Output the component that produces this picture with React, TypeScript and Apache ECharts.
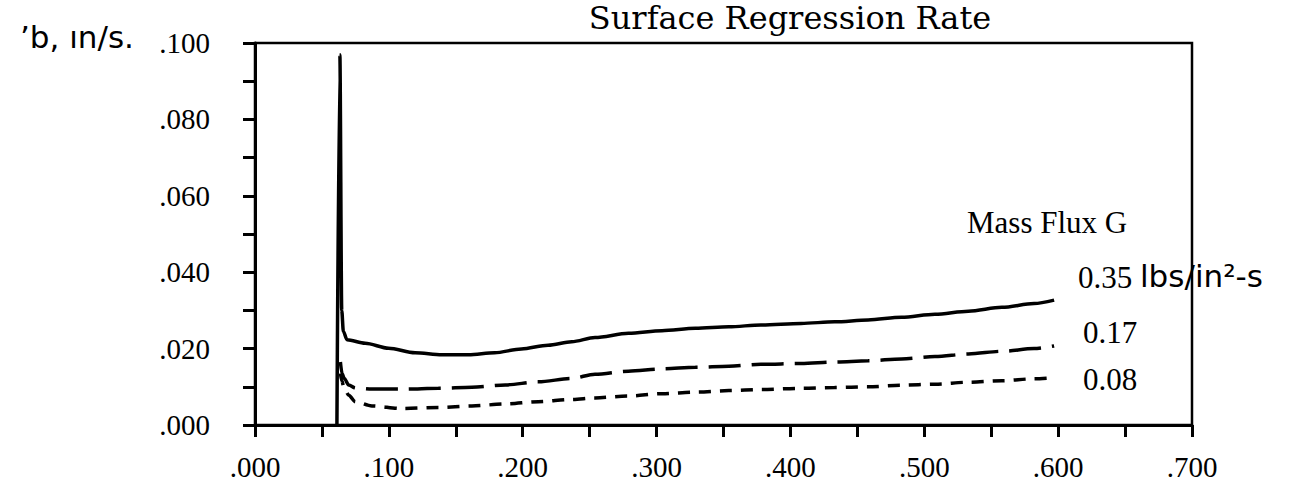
import React, { useEffect, useRef } from "react";
import * as echarts from "echarts";

// Burn distance (x) vs regression rate (in/s) for three mass fluxes
const rate035: [number, number][] = [
  [0.0612, 0.0], [0.0634, 0.0969], [0.0648, 0.03], [0.066, 0.0245], [0.0687, 0.0223],
  [0.0823, 0.0214], [0.0998, 0.0201], [0.1196, 0.0189], [0.1396, 0.0184], [0.1595, 0.0184],
  [0.179, 0.0189], [0.199, 0.0199], [0.219, 0.0209], [0.2366, 0.0218], [0.254, 0.0229],
  [0.279, 0.024], [0.304, 0.0247], [0.329, 0.0253], [0.354, 0.0257], [0.378, 0.0262],
  [0.408, 0.0266], [0.433, 0.027], [0.458, 0.0275], [0.483, 0.0282], [0.508, 0.029],
  [0.533, 0.0298], [0.558, 0.0308], [0.582, 0.0318], [0.597, 0.0327],
];

const rate017: [number, number][] = [
  [0.0638, 0.0165], [0.065, 0.0135], [0.0667, 0.0122], [0.07, 0.0105], [0.075, 0.0097],
  [0.0873, 0.0094], [0.112, 0.0094], [0.137, 0.0096], [0.162, 0.0099], [0.187, 0.0105],
  [0.2117, 0.0113], [0.2366, 0.0122], [0.254, 0.0133], [0.279, 0.0141], [0.304, 0.0147],
  [0.329, 0.0151], [0.354, 0.0154], [0.378, 0.0159], [0.408, 0.0161], [0.433, 0.0165],
  [0.458, 0.0168], [0.483, 0.0173], [0.508, 0.0179], [0.533, 0.0186], [0.558, 0.0193],
  [0.582, 0.02], [0.597, 0.0207],
];

const rate008: [number, number][] = [
  [0.0638, 0.0135], [0.065, 0.0115], [0.0662, 0.01], [0.07, 0.0078], [0.075, 0.0061],
  [0.0873, 0.005], [0.1097, 0.0043], [0.137, 0.0046], [0.162, 0.005], [0.187, 0.0055],
  [0.2117, 0.0061], [0.2366, 0.0067], [0.254, 0.0071], [0.279, 0.0076], [0.304, 0.0082],
  [0.329, 0.0086], [0.354, 0.009], [0.378, 0.0093], [0.408, 0.0096], [0.433, 0.0098],
  [0.458, 0.01], [0.483, 0.0104], [0.508, 0.0107], [0.533, 0.0112], [0.558, 0.0116],
  [0.582, 0.0121], [0.597, 0.0124],
];

const fluxLabels = ["0.35", "0.17", "0.08"];

const SERIF = "'Liberation Serif', 'Times New Roman', serif";
const HAND = "'DejaVu Sans', sans-serif";

const fmt = (v: number) => "." + Math.round(v * 1000).toString().padStart(3, "0");

export default function App() {
  const ref = useRef<HTMLDivElement>(null);

  useEffect(() => {
    if (!ref.current) return;
    const chart = echarts.init(ref.current, null, { renderer: "svg" });

    const lineCommon = {
      type: "line" as const,
      showSymbol: false,
      smooth: 0.3,
      smoothMonotone: "x" as const,
      silent: true,
    };

    const tickStyle = { color: "#000", width: 3 };

    const label = (text: string, x: number, y: number, size: number, font = SERIF) => ({
      type: "text",
      style: { text, x, y, verticalAlign: "middle", fontFamily: font, fontSize: size, fill: "#000" },
    });

    chart.setOption({
      animation: false,
      backgroundColor: "#ffffff",
      grid: {
        left: 255,
        right: 107,
        top: 43,
        bottom: 62,
        show: true,
        borderColor: "#000",
        borderWidth: 2.5,
      },
      xAxis: {
        type: "value",
        min: 0,
        max: 0.7,
        interval: 0.1,
        axisLine: { show: true, lineStyle: { color: "#000", width: 3 } },
        axisTick: { show: true, length: 12, inside: false, lineStyle: tickStyle },
        minorTick: { show: true, splitNumber: 2, length: 12, lineStyle: tickStyle },
        splitLine: { show: false },
        axisLabel: {
          margin: 27,
          color: "#000",
          fontFamily: SERIF,
          fontSize: 29,
          formatter: fmt,
        },
      },
      yAxis: {
        type: "value",
        min: 0,
        max: 0.1,
        interval: 0.02,
        axisLine: { show: true, lineStyle: { color: "#000", width: 3 } },
        axisTick: { show: true, length: 12, inside: false, lineStyle: tickStyle },
        minorTick: { show: true, splitNumber: 2, length: 12, lineStyle: tickStyle },
        splitLine: { show: false },
        axisLabel: {
          margin: 45,
          color: "#000",
          fontFamily: SERIF,
          fontSize: 29,
          formatter: fmt,
        },
      },
      series: [
        {
          ...lineCommon,
          name: fluxLabels[0],
          data: rate035,
          lineStyle: { color: "#000", width: 3.5 },
        },
        {
          ...lineCommon,
          name: fluxLabels[1],
          data: rate017,
          lineStyle: { color: "#000", width: 3.5, type: [32, 11] },
        },
        {
          ...lineCommon,
          name: fluxLabels[2],
          data: rate008,
          lineStyle: { color: "#000", width: 3.5, type: [12, 9] },
        },
      ],
      graphic: [
        {
          type: "text",
          style: {
            text: "Surface Regression Rate",
            x: 790,
            y: 2,
            align: "center",
            verticalAlign: "top",
            fontFamily: "'DejaVu Serif', serif",
            fontSize: 32,
            fill: "#000",
          },
        },
        label("’b, ın/s.", 20, 37, 31, HAND),
        label("Mass Flux G", 967, 222, 31),
        label(fluxLabels[0], 1078, 277, 31),
        label("lbs/in²-s", 1140, 276, 31, HAND),
        label(fluxLabels[1], 1083, 332, 31),
        label(fluxLabels[2], 1083, 379, 31),
      ],
    });

    return () => chart.dispose();
  }, []);

  return (
    <div
      ref={ref}
      style={{ position: "fixed", left: 0, top: 0, width: 1299, height: 487, background: "#fff" }}
    />
  );
}
